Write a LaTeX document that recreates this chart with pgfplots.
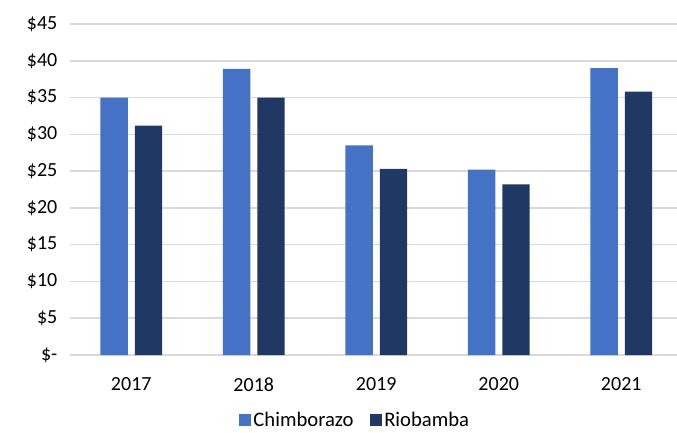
\documentclass[border=0pt]{standalone}
\usepackage{fontspec}
\setmainfont{Carlito}
\usepackage{pgfplots}
\pgfplotsset{compat=1.18}
\definecolor{cblue}{HTML}{4472C4}
\definecolor{cnavy}{HTML}{203864}
\definecolor{gridc}{HTML}{D9D9D9}
\begin{document}
\begin{tikzpicture}
\path[use as bounding box] (-52.5pt,-57.75pt) rectangle (455.25pt,266.25pt);
\begin{axis}[
  at={(0,0)}, anchor=south west,
  scale only axis,
  width=455.25pt, height=248.25pt,
  ybar=5.25pt, bar width=20.6pt,
  xmin=-0.5, xmax=4.455,
  ymin=0, ymax=45,
  axis line style={draw=none},
  ymajorgrids, grid style={gridc, line width=1.1pt},
  xtick={0,1,2,3,4},
  xticklabels={2017,2018,2019,2020,2021},
  ytick={0,5,10,15,20,25,30,35,40,45},
  yticklabels={\$-,\$5,\$10,\$15,\$20,\$25,\$30,\$35,\$40,\$45},
  tick style={draw=none},
  ticklabel style={font=\fontsize{15}{17}\selectfont, text=black},
  yticklabel style={anchor=east, xshift=-6pt},
  xticklabel style={yshift=-9pt},
  legend style={draw=none, at={(0.47,-0.197)}, anchor=center,
    font=\fontsize{15.5}{17}\selectfont, legend columns=2,
    /tikz/every even column/.append style={column sep=10pt}},
  legend image code/.code={\fill[#1] (0pt,-4.5pt) rectangle (9pt,4.5pt);},
  clip=false,
]
\addplot[fill=cblue, draw=none] coordinates {(0,35.0) (1,38.9) (2,28.5) (3,25.2) (4,39.0)};
\addplot[fill=cnavy, draw=none] coordinates {(0,31.2) (1,35.0) (2,25.3) (3,23.2) (4,35.8)};
\legend{Chimborazo, Riobamba}
\end{axis}
\end{tikzpicture}
\end{document}
